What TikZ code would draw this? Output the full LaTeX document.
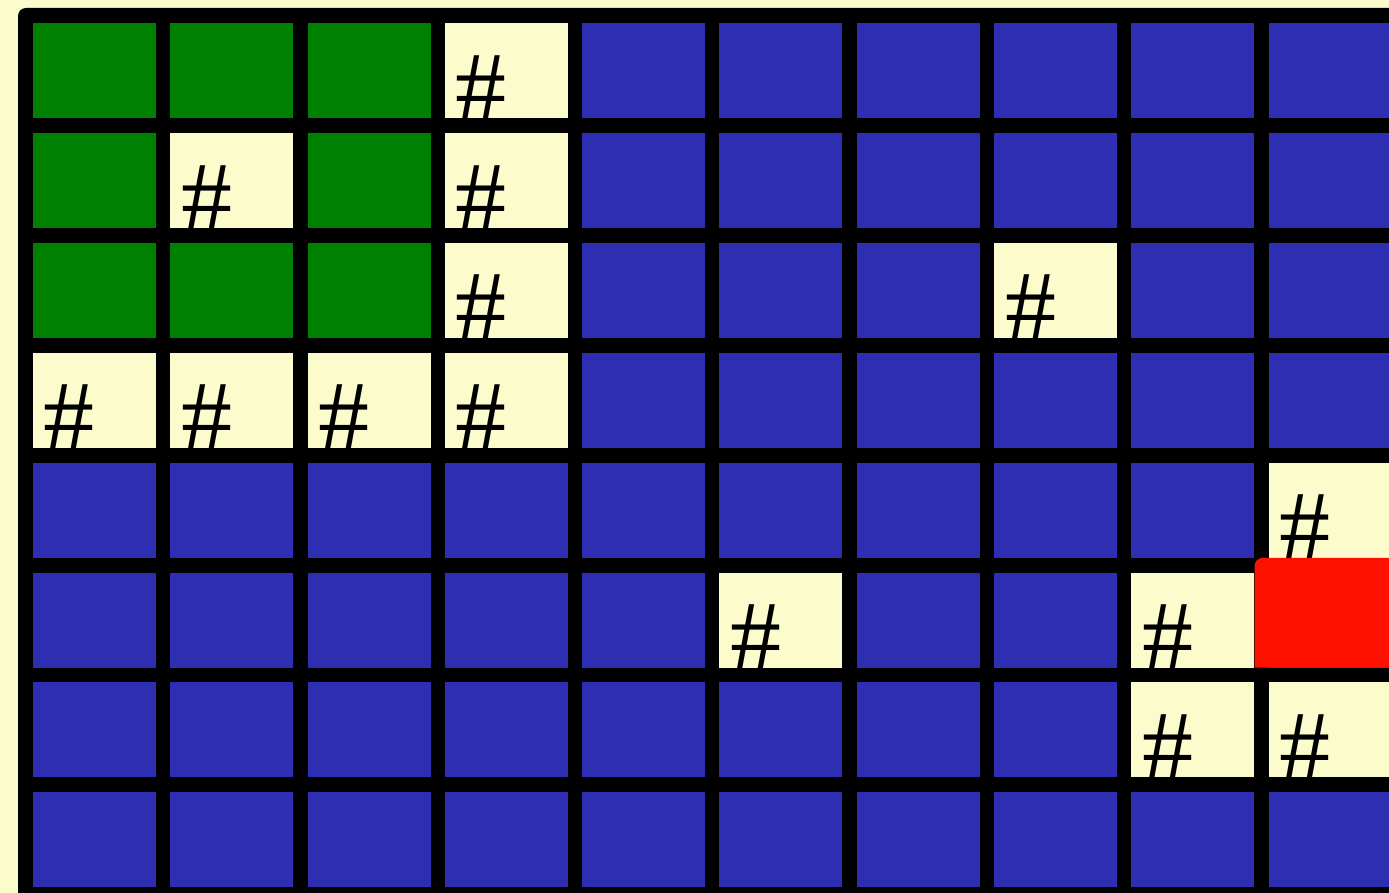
\documentclass[tikz,border=0pt]{standalone}
\usepackage{fontspec}
\setmainfont{Liberation Serif}
\usetikzlibrary{calc, positioning}
\definecolor{floor}{HTML}{FBFBCC}
\definecolor{wallblue}{HTML}{2E2EB2}
\definecolor{boxgreen}{HTML}{008000}
\definecolor{goalred}{HTML}{FF1100}
\colorlet{cG}{boxgreen}
\colorlet{cB}{wallblue}
\colorlet{cH}{floor}

\begin{document}
\begin{tikzpicture}[x=1pt, y=-1pt,
  cellbox/.style={rectangle, inner sep=0pt, minimum width=123pt, minimum height=95pt, anchor=north west},
  hashmark/.style={inner sep=0pt, anchor=base west, font=\fontsize{102}{102}\selectfont}]
\useasboundingbox (0,0) rectangle (1389,893);
\fill[floor] (0,0) rectangle (1389,893);
\clip (0,0) rectangle (1389,893);

% board frame
\fill[black, rounded corners=8pt] (18,8) rectangle (1430,930);

% cells, row by row: G green, B blue, H floor with #
\foreach \row [count=\j from 0] in {
  {G,G,G,H,B,B,B,B,B,B},
  {G,H,G,H,B,B,B,B,B,B},
  {G,G,G,H,B,B,B,H,B,B},
  {H,H,H,H,B,B,B,B,B,B},
  {B,B,B,B,B,B,B,B,B,H},
  {B,B,B,B,B,H,B,B,H,B},
  {B,B,B,B,B,B,B,B,H,H},
  {B,B,B,B,B,B,B,B,B,B}} {
  \foreach \k [count=\i from 0] in \row {
    \node[cellbox, fill=c\k] (c-\i-\j) at ({32.7+137.3*\i}, {23.3+109.8*\j}) {};
    \if\k H
      \begin{scope}
        \clip (c-\i-\j.north west) rectangle (c-\i-\j.south east);
        \node[hashmark] (h-\i-\j) at ($(c-\i-\j.north west)+(11,99)$) {\#};
      \end{scope}
    \fi
  }
}

% red goal
\fill[goalred] ($(c-8-4.south east)+(0,109.8)$) [rounded corners=8pt] -- (c-8-4.south east) [sharp corners] -- ++(140,0) -- ++(0,109.8) -- cycle;
\end{tikzpicture}
\end{document}
